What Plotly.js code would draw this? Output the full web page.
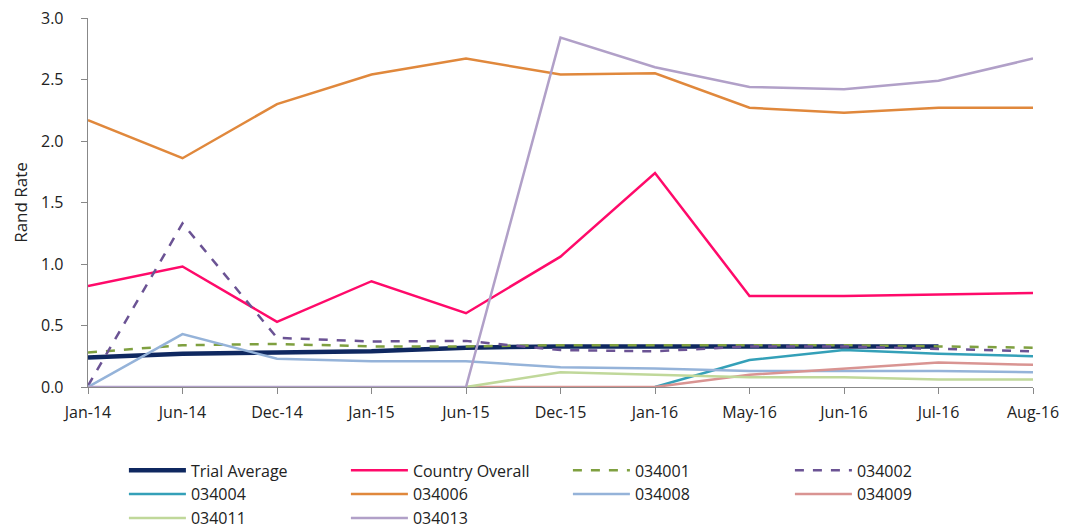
<!DOCTYPE html>
<html>
<head>
<meta charset="utf-8">
<script src="https://cdn.plot.ly/plotly-3.0.1.min.js"></script>
<style>html,body{margin:0;padding:0;background:#fff}#chart{width:1075px;height:529px}</style>
</head>
<body>
<div id="chart"></div>
<script>
const categories = ["Jan-14","Jun-14","Dec-14","Jan-15","Jun-15","Dec-15","Jan-16","May-16","Jun-16","Jul-16","Aug-16"];
const trialAverage   = [0.24, 0.27, 0.28, 0.29, 0.32, 0.33, 0.33, 0.33, 0.33, 0.33, null];
const countryOverall = [0.82, 0.98, 0.53, 0.86, 0.60, 1.06, 1.74, 0.74, 0.74, 0.755, 0.765];
const s034001 = [0.28, 0.34, 0.35, 0.33, 0.33, 0.34, 0.34, 0.34, 0.34, 0.33, 0.32];
const s034002 = [0.01, 1.33, 0.40, 0.37, 0.375, 0.30, 0.29, 0.33, 0.33, 0.31, 0.29];
const s034004 = [null, null, null, null, null, null, 0.0, 0.22, 0.30, 0.27, 0.25];
const s034006 = [2.17, 1.86, 2.30, 2.54, 2.67, 2.54, 2.55, 2.27, 2.23, 2.27, 2.27];
const s034008 = [0.0, 0.43, 0.23, 0.21, 0.21, 0.16, 0.15, 0.13, 0.13, 0.13, 0.12];
const s034009 = [null, null, null, null, 0.0, 0.0, 0.0, 0.10, 0.15, 0.20, 0.18];
const s034011 = [null, null, null, null, 0.0, 0.12, 0.10, 0.08, 0.08, 0.06, 0.06];
const s034013 = [0.0, 0.0, 0.0, 0.0, 0.0, 2.84, 2.60, 2.44, 2.42, 2.49, 2.67];

const seriesNames = ["Trial Average","Country Overall","034001","034002","034004","034006","034008","034009","034011","034013"];
const seriesData = [trialAverage, countryOverall, s034001, s034002, s034004, s034006, s034008, s034009, s034011, s034013];
const seriesColors = ["#0F2860","#FF0A6A","#7FA040","#6B5394","#34A0B8","#E0883C","#95B3D9","#D99492","#C0D89A","#B1A0C8"];
const seriesWidths = [4.5, 2.5, 2.5, 2.5, 2.5, 2.5, 2.5, 2.5, 2.5, 2.5];
const seriesDash = ["solid","solid","dash","dash","solid","solid","solid","solid","solid","solid"];

const traces = seriesNames.map((n, i) => ({
  type: "scatter",
  mode: "lines",
  name: n,
  x: categories,
  y: seriesData[i],
  line: {color: seriesColors[i], width: seriesWidths[i], dash: seriesDash[i]},
  connectgaps: false
}));

const tickFont = {family: "'Open Sans', sans-serif", size: 16, color: "#222"};

const layout = {
  width: 1075, height: 529,
  margin: {l: 88, r: 42, t: 18, b: 142, autoexpand: false},
  paper_bgcolor: "#fff", plot_bgcolor: "#fff",
  font: {family: "'Open Sans', sans-serif", size: 15, color: "#222"},
  showlegend: true,
  xaxis: {
    type: "category", range: [0, 10], showgrid: false, zeroline: false,
    showline: true, linecolor: "#888", linewidth: 1.3,
    ticks: "outside", ticklen: 6, tickcolor: "#888",
    tickfont: tickFont, ticklabelstandoff: 4
  },
  yaxis: {
    range: [0, 3], dtick: 0.5, tickformat: ".1f", showgrid: false, zeroline: false,
    showline: true, linecolor: "#888", linewidth: 1.3,
    ticks: "outside", ticklen: 6, tickcolor: "#888",
    tickfont: tickFont, ticklabelstandoff: 14,
    title: {text: "Rand Rate", font: {family: "'Open Sans', sans-serif", size: 17, color: "#222"}, standoff: 9}
  },
  legend: {
    orientation: "h", x: 0.038, xanchor: "left", y: -0.18, yanchor: "top",
    entrywidth: 150, entrywidthmode: "pixels",
    font: {family: "'Open Sans', sans-serif", size: 16, color: "#222"}, traceorder: "normal", itemwidth: 57
  }
};

Plotly.newPlot("chart", traces, layout, {displayModeBar: false, staticPlot: true});
</script>
</body>
</html>
